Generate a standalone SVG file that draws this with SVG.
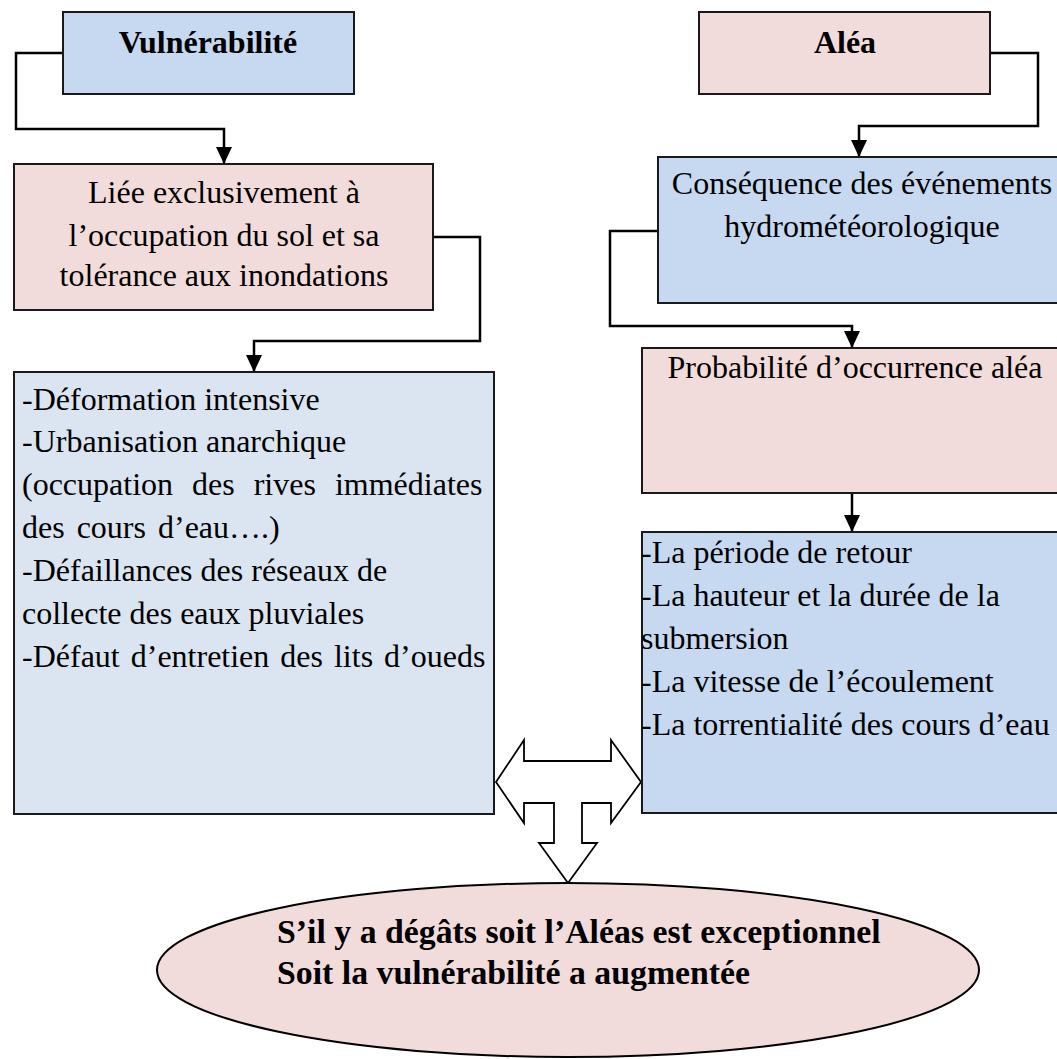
<svg xmlns="http://www.w3.org/2000/svg" width="1057" height="1059" viewBox="0 0 1057 1059">
  <style>
    .box { stroke: #1a1a1a; stroke-width: 2; }
    .blue { fill: #c6d9f1; }
    .lblue { fill: #dbe5f1; }
    .pink { fill: #f2dcdb; }
    .t { font-family: "Liberation Serif", "Times New Roman", serif; font-size: 32px; fill: #000; }
    .b { font-weight: bold; }
    .c { text-anchor: middle; }
    .big { font-size: 33.8px; }
    .wire { fill: none; stroke: #000; stroke-width: 2.5; }
  </style>
  <defs>
    <marker id="arrow" markerUnits="userSpaceOnUse" markerWidth="17" markerHeight="16" refX="17" refY="8" orient="auto">
      <path d="M0,0 L17,8 L0,16 z" fill="#000"/>
    </marker>
  </defs>

  <rect width="1057" height="1059" fill="#fff"/>

  <!-- connectors -->
  <g id="connectors">
    <path class="wire" d="M63,53 H16 V129 H224 V164" marker-end="url(#arrow)"/>
    <path class="wire" d="M433,237 H480 V341 H254 V372" marker-end="url(#arrow)"/>
    <path class="wire" d="M990,53 H1038 V126 H859 V157" marker-end="url(#arrow)"/>
    <path class="wire" d="M658,231 H610 V326 H852 V348" marker-end="url(#arrow)"/>
    <path class="wire" d="M852,493 V532" marker-end="url(#arrow)"/>
    <!-- three-way block arrow between the two lists and the conclusion -->
    <polygon points="496,782 524,740 524,761 611,761 611,740 641,782 611,823 611,803 582,803 582,843 597,843 568,883 539,843 554,843 554,803 524,803 524,823" fill="#fff" stroke="#000" stroke-width="1.8" stroke-linejoin="miter"/>
  </g>

  <!-- left column -->
  <g id="vulnerabilite">
    <rect class="box blue" x="63" y="12" width="291" height="82"/>
    <text class="t b c" x="208" y="53">Vulnérabilité</text>
  </g>

  <g id="liee">
    <rect class="box pink" x="14" y="164" width="419" height="146"/>
    <text class="t c" x="224" y="203">Liée exclusivement à</text>
    <text class="t c" x="224" y="246">l’occupation du sol et sa</text>
    <text class="t c" x="224" y="286">tolérance aux inondations</text>
  </g>

  <g id="facteurs">
    <rect class="box lblue" x="14" y="372" width="480" height="442"/>
    <text class="t" x="22" y="410">-Déformation intensive</text>
    <text class="t" x="22" y="452">-Urbanisation anarchique</text>
    <text class="t" x="22" y="495" word-spacing="11">(occupation des rives immédiates</text>
    <text class="t" x="22" y="538" word-spacing="4">des cours d’eau….)</text>
    <text class="t" x="22" y="581">-Défaillances des réseaux de</text>
    <text class="t" x="22" y="624">collecte des eaux pluviales</text>
    <text class="t" x="22" y="667" word-spacing="3">-Défaut d’entretien des lits d’oueds</text>
  </g>

  <!-- right column -->
  <g id="alea">
    <rect class="box pink" x="699" y="12" width="291" height="82"/>
    <text class="t b c" x="845" y="53">Aléa</text>
  </g>

  <g id="consequence">
    <rect class="box blue" x="658" y="157" width="410" height="146"/>
    <text class="t c" x="862" y="194">Conséquence des événements</text>
    <text class="t c" x="862" y="237">hydrométéorologique</text>
  </g>

  <g id="probabilite">
    <rect class="box pink" x="642" y="348" width="426" height="145"/>
    <text class="t c" x="855" y="378">Probabilité d’occurrence aléa</text>
  </g>

  <g id="parametres">
    <rect class="box blue" x="642" y="532" width="426" height="281"/>
    <text class="t" x="641" y="563">-La période de retour</text>
    <text class="t" x="641" y="606">-La hauteur et la durée de la</text>
    <text class="t" x="641" y="649">submersion</text>
    <text class="t" x="641" y="692">-La vitesse de l’écoulement</text>
    <text class="t" x="641" y="735">-La torrentialité des cours d’eau</text>
  </g>

  <!-- conclusion -->
  <g id="conclusion">
    <ellipse class="pink" cx="568" cy="970" rx="411" ry="87" stroke="#000" stroke-width="2"/>
    <text class="t b big" x="277" y="943">S’il y a dégâts soit l’Aléas est exceptionnel</text>
    <text class="t b big" x="277" y="984">Soit la vulnérabilité a augmentée</text>
  </g>
</svg>
